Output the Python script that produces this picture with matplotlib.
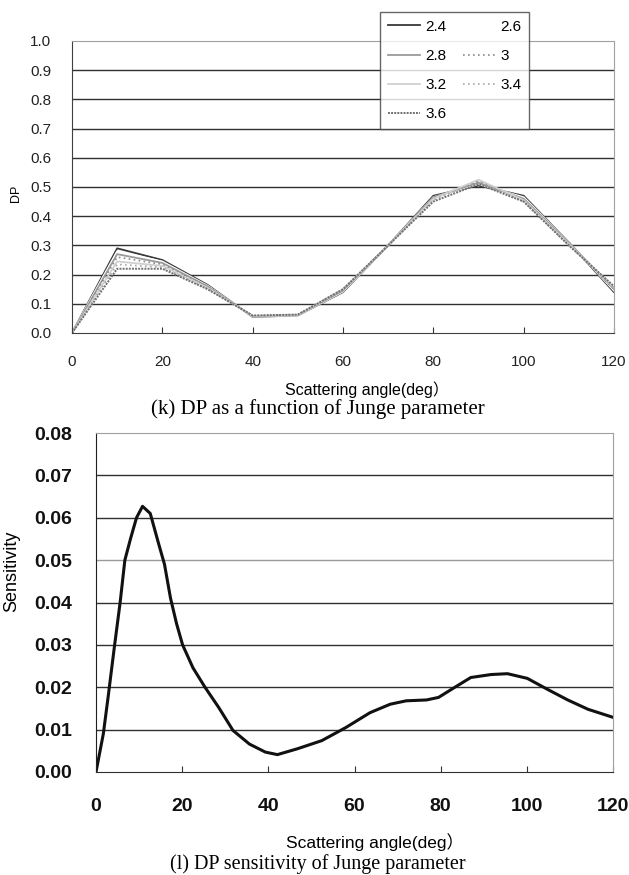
import matplotlib
matplotlib.use("Agg")
import matplotlib.pyplot as plt
from matplotlib.lines import Line2D

plt.rcParams['font.family'] = ['Liberation Sans', 'Noto Sans CJK JP']

# (k) DP vs scattering angle for several Junge parameters
angles_k = [0, 10, 20, 30, 40, 50, 60, 70, 80, 90, 100, 110, 120]
junge_labels = ["2.4", "2.6", "2.8", "3", "3.2", "3.4", "3.6"]
dp_24 = [0, 0.290, 0.250, 0.165, 0.055, 0.060, 0.140, 0.300, 0.470, 0.505, 0.470, 0.310, 0.140]
dp_26 = [0, 0.280, 0.245, 0.162, 0.056, 0.060, 0.142, 0.300, 0.465, 0.510, 0.465, 0.310, 0.145]
dp_28 = [0, 0.270, 0.240, 0.160, 0.057, 0.061, 0.145, 0.300, 0.465, 0.515, 0.460, 0.310, 0.150]
dp_30 = [0, 0.260, 0.235, 0.158, 0.058, 0.062, 0.148, 0.300, 0.460, 0.520, 0.455, 0.305, 0.150]
dp_32 = [0, 0.245, 0.230, 0.155, 0.058, 0.062, 0.150, 0.300, 0.460, 0.525, 0.455, 0.305, 0.155]
dp_34 = [0, 0.235, 0.225, 0.152, 0.059, 0.063, 0.150, 0.300, 0.455, 0.520, 0.450, 0.300, 0.155]
dp_36 = [0, 0.220, 0.220, 0.150, 0.060, 0.063, 0.150, 0.300, 0.450, 0.510, 0.450, 0.300, 0.160]

# (l) sensitivity of DP to the Junge parameter
angles_l = [0, 1.7, 2.8, 4.2, 5.6, 6.7, 8, 9.4, 10.8, 12.6, 14.5, 15.9, 17.3, 18.7, 20.1,
            22.5, 25.3, 28.5, 31.8, 35.6, 39.3, 42.1, 46.8, 52.4, 58, 63.6, 68.3, 72,
            76.7, 79.5, 83.3, 87, 91.7, 95.5, 100.1, 104.8, 109.5, 114.2, 120]
sens = [0, 0.009, 0.0176, 0.029, 0.040, 0.050, 0.055, 0.060, 0.0627, 0.061, 0.054, 0.049,
        0.041, 0.035, 0.030, 0.0246, 0.020, 0.0152, 0.0098, 0.0066, 0.0047, 0.0041, 0.0055,
        0.0074, 0.0105, 0.014, 0.016, 0.0168, 0.0170, 0.0176, 0.020, 0.0223, 0.023, 0.0232,
        0.0221, 0.0195, 0.017, 0.0148, 0.0129]

styles = [
    dict(color="#383838", ls="-", lw=1.3),
    dict(color="#ffffff", ls="-", lw=1.3),
    dict(color="#9a9a9a", ls="-", lw=1.3),
    dict(color="#8a8a8a", ls=(0, (1, 2)), lw=1.2),
    dict(color="#d0d0d0", ls="-", lw=1.3),
    dict(color="#a8a8a8", ls=(0, (1, 2)), lw=1.2),
    dict(color="#707070", ls=(0, (1, 0.6)), lw=1.4),
]
series = [dp_24, dp_26, dp_28, dp_30, dp_32, dp_34, dp_36]

W, H = 629, 875
fig = plt.figure(figsize=(W/100, H/100), dpi=100)

# top panel
ax1 = fig.add_axes([72/W, 1 - 333/H, (614-72)/W, (333-41)/H])
for vals, st in zip(series, styles):
    ax1.plot(angles_k, vals, **st)
ax1.set_xlim(0, 120)
ax1.set_ylim(0, 1.0)
ax1.set_xticks(range(0, 121, 20))
ax1.set_yticks([i/10 for i in range(11)])
ax1.set_yticklabels([f"{i/10:.1f}" for i in range(11)])
for y in [i/10 for i in range(1, 10)]:
    ax1.axhline(y, color="#303030", lw=1.0, zorder=0)
ax1.tick_params(axis="x", direction="in", length=4, width=0.8, colors="#333333",
                labelcolor="#222222", labelsize=11, pad=16)
ax1.tick_params(axis="y", length=0, labelsize=11, labelcolor="#222222", pad=15)
ax1.spines["left"].set_color("#404040")
ax1.spines["bottom"].set_color("#404040")
ax1.spines["top"].set_color("#a0a0a0")
ax1.spines["right"].set_color("#a0a0a0")
ax1.set_ylabel("DP", fontsize=9, va="center")
ax1.yaxis.set_label_coords(-0.103, 0.479)
ax1.set_xlabel("Scattering angle(deg）", fontsize=11.5, va="center")
ax1.xaxis.set_label_coords(0.544, -0.195)

# legend laid out row by row: 2.4 2.6 / 2.8 3 / 3.2 3.4 / 3.6
order = [0, 2, 4, 6, 1, 3, 5]
handles = [Line2D([], [], **styles[i]) for i in order]
labels = [junge_labels[i] for i in order]
leg = fig.legend(handles, labels, ncol=2, loc="upper left",
                 bbox_to_anchor=(380/W, 1 - 12/H), borderaxespad=0, fontsize=11,
                 frameon=True, fancybox=False, edgecolor="#404040",
                 handlelength=2.15, labelspacing=1.0, columnspacing=1.05,
                 borderpad=0.5, handletextpad=0.33)
leg.get_frame().set_linewidth(1.0)

fig.text(318/W, 1 - 409/H, "(k) DP as a function of Junge parameter",
         ha="center", va="center", fontsize=15, family="Liberation Serif")

# bottom panel
ax2 = fig.add_axes([96/W, 1 - 772/H, (613-96)/W, (772-433)/H])
ax2.plot(angles_l, sens, color="#111111", lw=2.2, solid_joinstyle="round")
ax2.set_xlim(0, 120)
ax2.set_ylim(0, 0.08)
ax2.set_xticks(range(0, 121, 20))
ax2.set_yticks([i/100 for i in range(9)])
ax2.set_yticklabels([f"{i/100:.2f}" for i in range(9)])
for i in range(1, 8):
    ax2.axhline(i/100, color="#9a9a9a" if i == 5 else "#303030", lw=1.0, zorder=0)
ax2.tick_params(axis="x", direction="in", length=4, width=0.8, colors="#333333",
                labelcolor="#111111", labelsize=14, pad=19)
ax2.tick_params(axis="y", length=0, labelsize=14, labelcolor="#111111", pad=17)
for lab in ax2.get_xticklabels() + ax2.get_yticklabels():
    lab.set_fontweight("bold")
ax2.spines["left"].set_color("#202020")
ax2.spines["bottom"].set_color("#303030")
ax2.spines["top"].set_color("#a0a0a0")
ax2.spines["right"].set_color("#a0a0a0")
ax2.set_ylabel("Sensitivity", fontsize=13, va="center")
ax2.yaxis.set_label_coords(-0.1625, 0.593)
ax2.set_xlabel("Scattering angle(deg）", fontsize=12.5, va="center")
ax2.xaxis.set_label_coords(0.54, -0.2065)

fig.text(318/W, 1 - 864/H, "(l) DP sensitivity of Junge parameter",
         ha="center", va="center", fontsize=14.5, family="Liberation Serif")

fig.savefig("out.png", dpi=100)
